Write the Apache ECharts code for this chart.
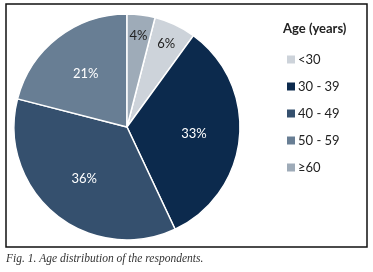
<!DOCTYPE html>
<html><head><meta charset="utf-8">
<script src="https://cdn.jsdelivr.net/npm/echarts@6/dist/echarts.min.js"></script>
<style>html,body{margin:0;padding:0;background:#fff}#c{width:373px;height:272px}</style>
</head><body><div id="c"></div>
<script>
var categories = ['<30', '30 - 39', '40 - 49', '50 - 59', '\u226560'];
var values = [6, 33, 36, 21, 4];
var colors = ['#cdd3da', '#0c2a4d', '#35506e', '#687e94', '#9eabb8'];
var labelColors = ['#222', '#fff', '#fff', '#fff', '#222'];
var legendTitle = 'Age (years)';
var caption = 'Fig. 1. Age distribution of the respondents.';

var CX = 127, CY = 127, R = 113;
var chart = echarts.init(document.getElementById('c'), null, {renderer: 'canvas'});
chart.setOption({
  animation: false,
  title: {text: legendTitle, left: 278, top: 17,
    textStyle: {fontFamily: 'Lato', fontWeight: 'bold', fontSize: 13, color: '#222'}},
  legend: {orient: 'vertical', left: 280, top: 48, icon: 'rect', itemWidth: 10, itemHeight: 10,
    itemGap: 14, data: categories,
    textStyle: {fontFamily: 'Lato', fontSize: 13, color: '#222', padding: [0, 0, 0, -3]}},
  graphic: [
    {type: 'rect', shape: {x: 6, y: 4, width: 361, height: 243}, style: {fill: 'none', stroke: '#111', lineWidth: 1.5}, z: 100},
    {type: 'text', left: 6, top: 253, style: {text: caption, font: 'italic 11.5px "Liberation Serif"', fill: '#333'}}
  ],
  series: [{
    type: 'pie', center: [CX, CY], radius: [0, R], startAngle: 90 - values[4] * 3.6,
    clockwise: true, silent: true,
    itemStyle: {borderColor: '#fff', borderWidth: 1.5},
    label: {show: true, position: 'inside', formatter: '{c}%', fontFamily: 'Lato', fontSize: 13},
    labelLine: {show: false},
    labelLayout: function (p) {
      var r = p.labelRect;
      var lx = r.x + r.width / 2, ly = r.y + r.height / 2;
      var f = values[p.dataIndex] < 10 ? 1.55 : 1.13;
      return {dx: (lx - CX) * (f - 1), dy: (ly - CY) * (f - 1)};
    },
    data: categories.map(function (c, i) {
      return {name: c, value: values[i], itemStyle: {color: colors[i]}, label: {color: labelColors[i]}};
    })
  }]
});
</script></body></html>
